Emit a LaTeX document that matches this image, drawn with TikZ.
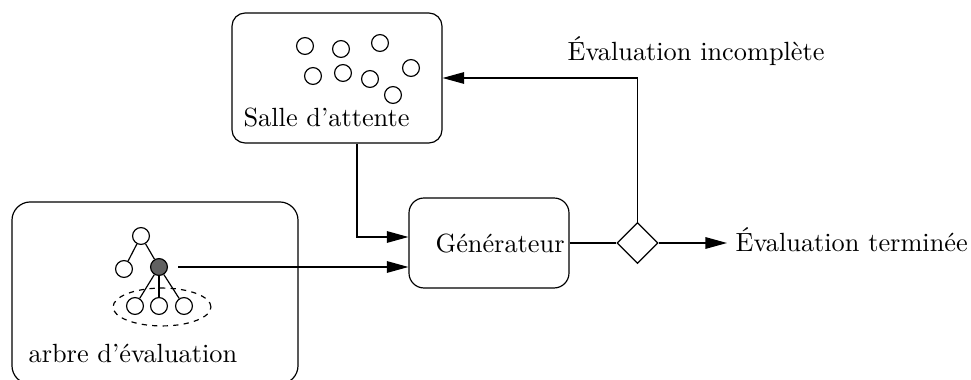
\documentclass[tikz,border=0pt]{standalone}
\usetikzlibrary{shapes.geometric,arrows.meta,calc}
\begin{document}
\begin{tikzpicture}[x=0.38pt,y=-0.38pt,line width=0.45pt,
  font=\fontsize{10}{12}\selectfont,
  box/.style={draw,rounded corners=#1,inner sep=0pt},
  dot/.style={draw,circle,minimum size=6.4pt,inner sep=0pt},
  tnode/.style={draw,circle,minimum size=6.4pt,inner sep=0pt},
  lbl/.style={anchor=base west,inner sep=0pt},
  arr/.style={-{Triangle[length=8.2pt,width=4.4pt]}}]
\clip (0,0) rectangle (971,380);
\useasboundingbox (0,0) rectangle (971,380);
% boxes
\node[box=5pt,minimum width=79.8pt,minimum height=49.4pt] (salle) at (337,78) {};
\node[box=7pt,minimum width=108.7pt,minimum height=69.2pt] (arbre) at (155,293) {};
\node[box=5.7pt,minimum width=60.8pt,minimum height=34.2pt] (gen) at (489,243) {};
\node[draw,diamond,minimum width=15.6pt,minimum height=15.6pt,inner sep=0pt] (dia) at (637.5,243) {};
% labels
\node[lbl] (tsalle) at (243,127) {Salle d'attente};
\node[lbl] (tarbre) at (28,363) {arbre d'évaluation};
\node[lbl] (tgen) at (435,253) {Générateur};
\node[lbl] (tinc) at (567,61) {Évaluation incomplète};
\node[lbl] (tfin) at (735,252) {Évaluation terminée};
% waiting-room dots
\node[dot] (d1) at (305,46) {};
\node[dot] (d2) at (341,49) {};
\node[dot] (d3) at (380,43) {};
\node[dot] (d4) at (313,76) {};
\node[dot] (d5) at (343,73) {};
\node[dot] (d6) at (370,79) {};
\node[dot] (d7) at (411,68) {};
\node[dot] (d8) at (393,95) {};
% tree
\node[tnode] (r) at (141,236) {};
\node[tnode] (c1) at (124,269) {};
\node[tnode,fill=black!62] (c2) at (159,267) {};
\node[tnode] (g1) at (135,306) {};
\node[tnode] (g2) at (159,306) {};
\node[tnode] (g3) at (184,306) {};
\node[draw,ellipse,dash pattern=on 2pt off 2pt,minimum width=37.2pt,minimum height=14.4pt,inner sep=0pt] (ell) at (162,307) {};
\draw (r) -- (c1);
\draw (r) -- (c2);
\draw (c2) -- (g1);
\draw (c2) -- (g2);
\draw (c2) -- (g3);
% connectors
\draw[arr,shorten <=3.8pt] (c2.east) -- (c2.east -| gen.west);
\coordinate (sdown) at ($(salle.south)+(20,0)$);
\coordinate (gin) at ($(gen.west)+(0,-6)$);
\draw[arr] (sdown) |- (gin);
\draw (gen.east) -- (dia.west);
\coordinate (fin) at (727,243);
\draw[arr] (dia.east) -- (fin);
\draw[arr] (dia.north) |- (salle.east);
\end{tikzpicture}
\end{document}
